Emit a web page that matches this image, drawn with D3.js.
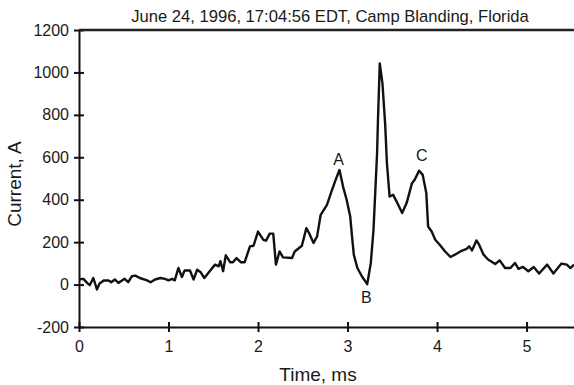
<!DOCTYPE html>
<html>
<head>
<meta charset="utf-8">
<script src="https://cdn.jsdelivr.net/npm/d3@7"></script>
<style>
  body { margin: 0; background: #fff; }
  text { font-family: "Liberation Sans", Arial, sans-serif; fill: #1a1a1a; }
</style>
</head>
<body>
<div id="chart"></div>
<script>
// time in ms, current in A
var timeMs = [0.01, 0.05, 0.09, 0.12, 0.16, 0.20, 0.23, 0.28, 0.33, 0.36, 0.40, 0.44, 0.51, 0.55, 0.59, 0.63,
  0.68, 0.76, 0.80, 0.85, 0.91, 0.96, 1.00, 1.04, 1.07, 1.11, 1.15, 1.18, 1.24, 1.28, 1.32, 1.36, 1.40,
  1.46, 1.52, 1.56, 1.58, 1.61, 1.64, 1.69, 1.72, 1.76, 1.81, 1.85, 1.91, 1.95, 2.00, 2.06, 2.09, 2.13,
  2.17, 2.20, 2.24, 2.28, 2.38, 2.41, 2.49, 2.54, 2.57, 2.62, 2.66, 2.70, 2.73, 2.77, 2.82, 2.87, 2.91,
  2.95, 2.99, 3.03, 3.05, 3.07, 3.11, 3.16, 3.22, 3.26, 3.29, 3.33, 3.34, 3.36, 3.39, 3.42, 3.44, 3.47,
  3.51, 3.55, 3.61, 3.66, 3.72, 3.75, 3.80, 3.84, 3.88, 3.90, 3.94, 3.98, 4.03, 4.09, 4.15, 4.20, 4.26,
  4.33, 4.36, 4.39, 4.44, 4.47, 4.52, 4.57, 4.65, 4.70, 4.76, 4.82, 4.87, 4.91, 4.96, 5.02, 5.08, 5.14,
  5.23, 5.30, 5.39, 5.45, 5.49, 5.53];
var currentA = [25, 27, 8, -3, 31, -23, 5, 20, 19, 11, 24, 8, 27, 11, 39, 42,
  31, 20, 11, 24, 31, 27, 20, 27, 20, 78, 36, 67, 66, 24, 70, 58, 31,
  63, 94, 86, 110, 63, 138, 105, 105, 125, 105, 105, 180, 183, 250, 211, 207, 240,
  240, 94, 156, 128, 125, 156, 183, 266, 243, 196, 227, 329, 349, 376, 438, 497, 540,
  462, 400, 321, 227, 141, 78, 39, 2, 102, 258, 619, 776, 1042, 948, 760, 572, 415,
  423, 390, 337, 384, 478, 494, 537, 517, 431, 274, 250, 211, 188, 156, 130, 141, 156,
  168, 180, 161, 208, 188, 141, 118, 97, 114, 78, 78, 102, 74, 83, 63, 83, 52,
  94, 52, 99, 94, 78, 94];

var xTicks = [0, 1, 2, 3, 4, 5];
var yTicks = [-200, 0, 200, 400, 600, 800, 1000, 1200];

var peakNames = ["A", "B", "C"];
var peakT = [2.90, 3.21, 3.83];
var peakV = [592, -61, 611];

var titleText = "June 24, 1996, 17:04:56 EDT, Camp Blanding, Florida";

var width = 574, height = 385;
var margin = { top: 30, right: 0, bottom: 58, left: 79 };

var svg = d3.select("#chart").append("svg")
    .attr("width", width)
    .attr("height", height);

var xScale = d3.scaleLinear()
    .domain([0, 5.53])
    .range([margin.left, width - margin.right]);

var yScale = d3.scaleLinear()
    .domain([-200, 1200])
    .range([height - margin.bottom, margin.top]);

// plain hyphen for negatives, like the original
var fmt = function(d) { return String(d); };

// axes (ticks cross the axis line)
var xAxis = d3.axisBottom(xScale).tickValues(xTicks).tickFormat(fmt)
    .tickSizeOuter(0).tickSizeInner(5).tickPadding(9);
var yAxis = d3.axisLeft(yScale).tickValues(yTicks).tickFormat(fmt)
    .tickSizeOuter(0).tickSizeInner(5).tickPadding(5);

var gx = svg.append("g")
    .attr("transform", "translate(0," + yScale(-200) + ")")
    .call(xAxis);
gx.selectAll(".tick line").attr("y1", -5);

var gy = svg.append("g")
    .attr("transform", "translate(" + xScale(0) + ",0)")
    .call(yAxis);
gy.selectAll(".tick line").attr("x1", 5);

[gx, gy].forEach(function(g) {
  g.select(".domain").attr("stroke", "#111").attr("stroke-width", 2);
  g.selectAll(".tick line").attr("stroke", "#111").attr("stroke-width", 2);
  g.selectAll(".tick text").style("font-size", "16px").attr("fill", "#1a1a1a");
});

// top frame line
svg.append("line")
    .attr("x1", xScale(0)).attr("x2", width)
    .attr("y1", yScale(1200)).attr("y2", yScale(1200))
    .attr("stroke", "#222").attr("stroke-width", 2.5);

// the waveform
var pts = timeMs.map(function(t, i) { return [t, currentA[i]]; });
var line = d3.line()
    .x(function(d) { return xScale(d[0]); })
    .y(function(d) { return yScale(d[1]); });

svg.append("path")
    .attr("d", line(pts))
    .attr("fill", "none")
    .attr("stroke", "#111")
    .attr("stroke-width", 2.4)
    .attr("stroke-linejoin", "round");

// peak letters
svg.selectAll(".peak")
    .data(peakNames)
    .enter().append("text")
    .attr("class", "peak")
    .attr("x", function(d, i) { return xScale(peakT[i]); })
    .attr("y", function(d, i) { return yScale(peakV[i]); })
    .attr("text-anchor", "middle")
    .attr("dy", "0.36em")
    .style("font-size", "16px")
    .text(function(d) { return d; });

// title + axis titles
svg.append("text")
    .attr("x", 330).attr("y", 22)
    .attr("text-anchor", "middle")
    .style("font-size", "16.6px")
    .text(titleText);

svg.append("text")
    .attr("x", 318).attr("y", 381)
    .attr("text-anchor", "middle")
    .style("font-size", "19px")
    .text("Time, ms");

svg.append("text")
    .attr("transform", "translate(21,184) rotate(-90)")
    .attr("text-anchor", "middle")
    .style("font-size", "19px")
    .text("Current, A");
</script>
</body>
</html>
